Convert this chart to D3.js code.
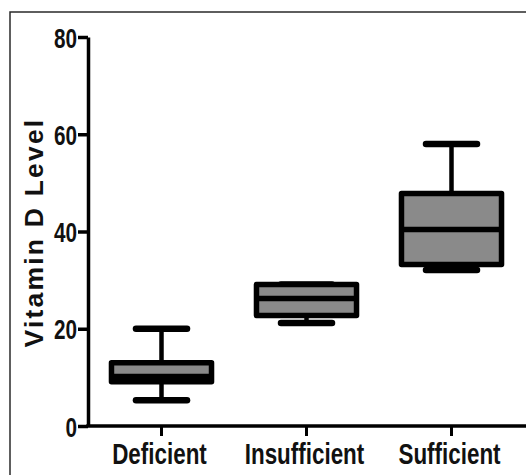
<!DOCTYPE html>
<html>
<head>
<meta charset="utf-8">
<script src="https://d3js.org/d3.v7.min.js"></script>
<style>
  body { margin: 0; background: #fff; }
  svg { display: block; }
  .tick-label { font-family: "Liberation Sans", Arial, sans-serif; font-weight: bold; fill: #111; }
  .axis-title { font-family: "Liberation Sans", Arial, sans-serif; font-weight: bold; fill: #111; }
</style>
</head>
<body>
<div id="chart"></div>
<script>
// Data
const groups = ['Deficient', 'Insufficient', 'Sufficient'];
const whiskerLow = [5.3, 21.2, 32.1];
const q1 = [9.1, 22.7, 33.2];
const median = [10.2, 26.2, 40.4];
const q3 = [13.0, 29.1, 47.8];
const whiskerHigh = [20.0, 29.1, 58.0];
const yTicks = [0, 20, 40, 60, 80];

const W = 526, H = 475;
const margin = { top: 37, right: 2, bottom: 49, left: 88 };

const svg = d3.select('#chart').append('svg')
    .attr('width', W)
    .attr('height', H);

// outer frame (left and top edges only visible)
svg.append('path')
    .attr('d', `M10,${H} L10,12 L${W},12`)
    .attr('fill', 'none')
    .attr('stroke', '#2a2a2a')
    .attr('stroke-width', 1.5);

const x = d3.scaleBand()
    .domain(groups)
    .range([margin.left + 1, W - margin.right])
    .paddingInner(0.31)
    .paddingOuter(0.155);

const y = d3.scaleLinear()
    .domain([0, 80])
    .range([H - margin.bottom, margin.top]);

const boxes = groups.map((g, i) => ({
    g, lo: whiskerLow[i], q1: q1[i], med: median[i], q3: q3[i], hi: whiskerHigh[i]
}));

const sw = 5.5;
const capW = x.bandwidth() * 0.51;

const box = svg.selectAll('.box')
    .data(boxes)
    .enter()
    .append('g')
    .attr('class', 'box');

// whisker stems
box.append('line')
    .attr('x1', d => x(d.g) + x.bandwidth() / 2)
    .attr('x2', d => x(d.g) + x.bandwidth() / 2)
    .attr('y1', d => y(d.hi))
    .attr('y2', d => y(d.lo))
    .attr('stroke', '#000')
    .attr('stroke-width', 4.5);

// whisker caps
['lo', 'hi'].forEach(k => {
    box.append('line')
        .attr('x1', d => x(d.g) + x.bandwidth() / 2 - capW / 2)
        .attr('x2', d => x(d.g) + x.bandwidth() / 2 + capW / 2)
        .attr('y1', d => y(d[k]))
        .attr('y2', d => y(d[k]))
        .attr('stroke', '#000')
        .attr('stroke-width', 6.5)
        .attr('stroke-linecap', 'round');
});

// boxes
box.append('rect')
    .attr('x', d => x(d.g))
    .attr('y', d => y(d.q3))
    .attr('width', x.bandwidth())
    .attr('height', d => y(d.q1) - y(d.q3))
    .attr('fill', '#8a8a8a')
    .attr('stroke', '#000')
    .attr('stroke-width', sw)
    .attr('stroke-linejoin', 'round');

// medians
box.append('line')
    .attr('x1', d => x(d.g))
    .attr('x2', d => x(d.g) + x.bandwidth())
    .attr('y1', d => y(d.med))
    .attr('y2', d => y(d.med))
    .attr('stroke', '#000')
    .attr('stroke-width', sw);

// no narrow font installed, so squeeze the labels horizontally around their anchor
function narrow(sel, k, dx) {
    sel.each(function () {
        const t = d3.select(this);
        const x0 = (+t.attr('x') || 0) + dx;
        t.attr('x', 0).attr('transform', `translate(${x0},0) scale(${k},1)`);
    });
}

// y axis
const yAxis = svg.append('g')
    .attr('transform', `translate(${margin.left},0)`)
    .call(d3.axisLeft(y).tickValues(yTicks).tickSize(10).tickSizeOuter(0).tickPadding(1));
yAxis.select('.domain').attr('stroke', '#000').attr('stroke-width', 3.5);
yAxis.selectAll('.tick line').attr('stroke', '#000').attr('stroke-width', 3.5);
yAxis.selectAll('.tick text')
    .attr('class', 'tick-label')
    .style('font-size', '28px')
    .attr('dy', '0.36em')
    .call(narrow, 0.74, 0);

// x axis
const xAxis = svg.append('g')
    .attr('transform', `translate(0,${y(0)})`)
    .call(d3.axisBottom(x).tickSize(10).tickSizeOuter(0).tickPadding(6));
xAxis.select('.domain').remove();
xAxis.append('line')
    .attr('x1', margin.left - 1.75)
    .attr('x2', W)
    .attr('stroke', '#000')
    .attr('stroke-width', 3.5);
xAxis.selectAll('.tick line').attr('stroke', '#000').attr('stroke-width', 3);
xAxis.selectAll('.tick text')
    .attr('class', 'tick-label')
    .style('font-size', '29.5px')
    .attr('dy', '0.74em')
    .call(narrow, 0.76, -2);

// y axis title
svg.append('text')
    .attr('class', 'axis-title')
    .attr('transform', `translate(43,${(y(0) + y(80)) / 2 + 1}) rotate(-90)`)
    .attr('text-anchor', 'middle')
    .style('font-size', '26.5px')
    .style('letter-spacing', '2.2px')
    .text('Vitamin D Level');
</script>
</body>
</html>
